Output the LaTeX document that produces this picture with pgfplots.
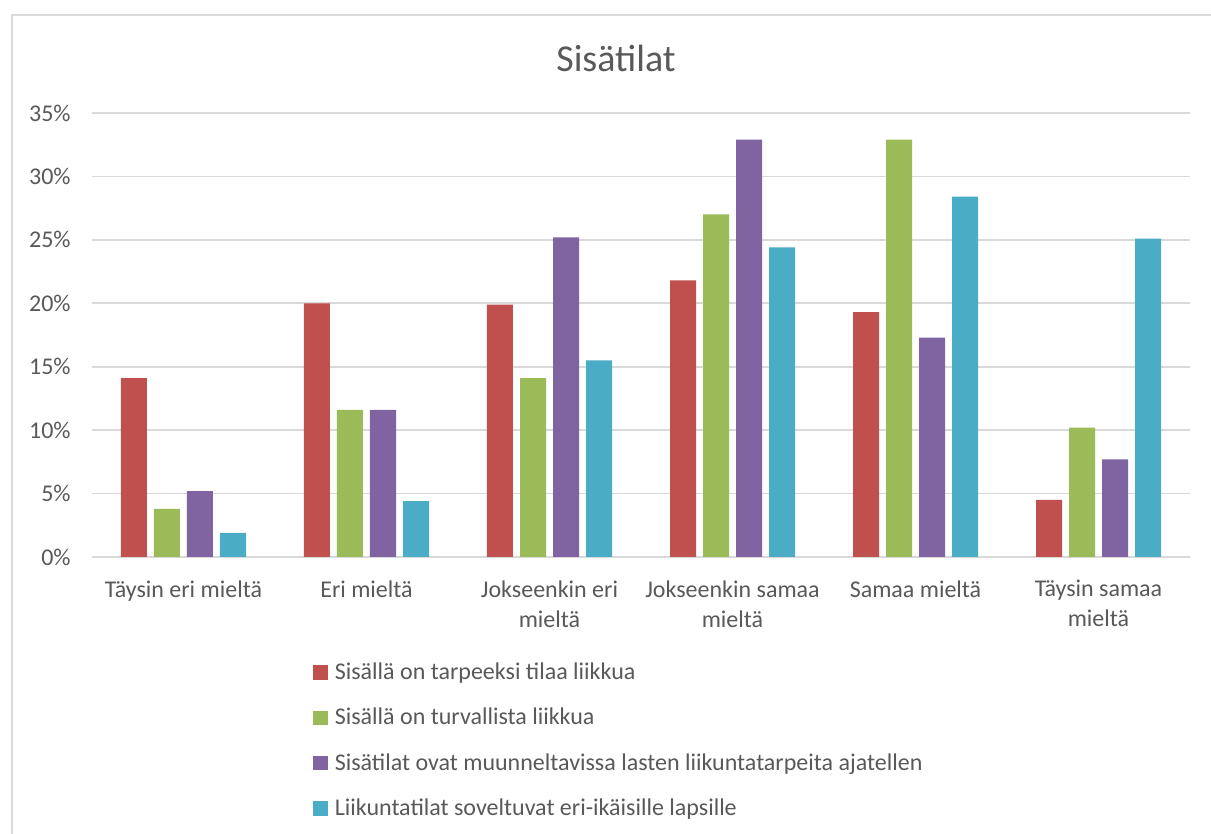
\documentclass[border=0pt]{standalone}
\usepackage{pgfplots}
\pgfplotsset{compat=1.18}
\usepackage{fontspec}
\setmainfont{Carlito}
\definecolor{cred}{HTML}{C0504D}
\definecolor{cgreen}{HTML}{9BBB59}
\definecolor{cpurple}{HTML}{8064A2}
\definecolor{ccyan}{HTML}{4BACC6}
\definecolor{txt}{HTML}{595959}
\definecolor{cgrid}{HTML}{D9D9D9}
\pgfplotsset{sq legend/.style={legend image code/.code={\fill[##1,draw=none] (0pt,-3.6pt) rectangle (7.2pt,3.6pt);}}}
\begin{document}
\begin{tikzpicture}
\clip (-46pt,-138.5pt) rectangle (559.5pt,278.5pt);
\fill[white] (-46pt,-138.5pt) rectangle (559.5pt,278.5pt);
\draw[cgrid, line width=1pt] (-40pt,-200pt) rectangle (700pt,271pt);
\node[text=txt, font=\fontsize{19}{22}\selectfont] at (262pt,249.5pt) {Sisätilat};
\begin{axis}[
  at={(0pt,0pt)}, anchor=south west,
  width=549pt, height=222pt, scale only axis,
  xmin=-0.5, xmax=5.5, ymin=0, ymax=35,
  ybar=3.5pt, bar width=13pt,
  xtick={0,1,2,3,4,5},
  xticklabels={Täysin eri mieltä, Eri mieltä, {Jokseenkin eri\\mieltä}, {Jokseenkin samaa\\mieltä}, Samaa mieltä, {Täysin samaa\\mieltä}},
  ytick={0,5,10,15,20,25,30,35},
  yticklabel={\pgfmathprintnumber{\tick}\%},
  /pgf/number format/assume math mode=true,
  ymajorgrids, grid style={cgrid, line width=0.9pt},
  axis line style={draw=none},
  major tick length=0pt,
  tick label style={text=txt, font=\fontsize{12}{15}\selectfont},
  x tick label style={align=center, anchor=north, inner sep=0pt, yshift=-11.5pt},
  y tick label style={anchor=east, inner sep=0pt, xshift=-10.5pt},
  legend cell align=left,
  legend style={at={(0.2013,-0.233)}, anchor=north west, draw=none, fill=none,
    font=\fontsize{12}{14}\selectfont, text=txt, row sep=10.8pt, column sep=2.5pt, inner sep=0pt,
    nodes={inner sep=1pt, anchor=west}},
]
\addplot[fill=cred, draw=none, sq legend] coordinates {(0,14.1) (1,20.0) (2,19.9) (3,21.8) (4,19.3) (5,4.5)};
\addplot[fill=cgreen, draw=none, sq legend] coordinates {(0,3.8) (1,11.6) (2,14.1) (3,27.0) (4,32.9) (5,10.2)};
\addplot[fill=cpurple, draw=none, sq legend] coordinates {(0,5.2) (1,11.6) (2,25.2) (3,32.9) (4,17.3) (5,7.7)};
\addplot[fill=ccyan, draw=none, sq legend] coordinates {(0,1.9) (1,4.4) (2,15.5) (3,24.4) (4,28.4) (5,25.1)};
\legend{Sisällä on tarpeeksi tilaa liikkua, Sisällä on turvallista liikkua, Sisätilat ovat muunneltavissa lasten liikuntatarpeita ajatellen, Liikuntatilat soveltuvat eri-ikäisille lapsille}
\end{axis}
\end{tikzpicture}
\end{document}
